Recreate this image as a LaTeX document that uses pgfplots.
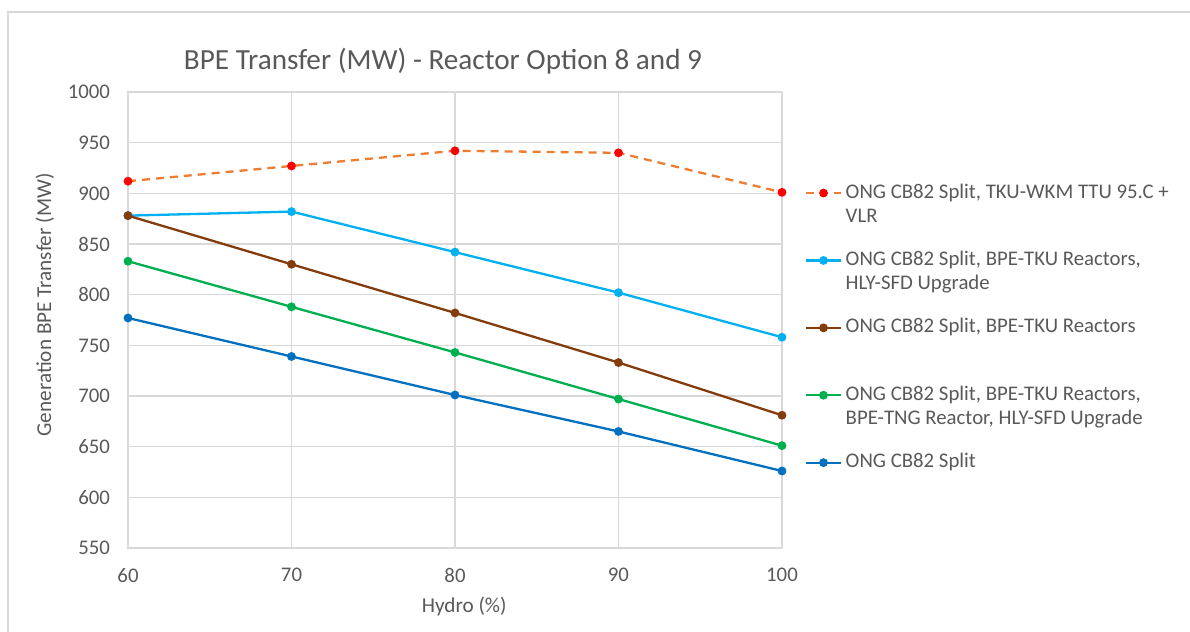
\documentclass[border=0pt]{standalone}
\usepackage{pgfplots}
\pgfplotsset{compat=1.18}
\usepackage{fontspec}
\setmainfont{Carlito}

\definecolor{gridgray}{HTML}{D9D9D9}
\definecolor{labgray}{HTML}{595959}
\definecolor{xlorange}{HTML}{ED7D31}
\definecolor{xlred}{HTML}{FF0000}
\definecolor{xllblue}{HTML}{00B0F0}
\definecolor{xlbrown}{HTML}{843C0C}
\definecolor{xlgreen}{HTML}{00B050}
\definecolor{xlblue}{HTML}{0070C0}

\newcommand{\legtext}[1]{\smash{\parbox[t]{210pt}{\raggedright #1}}}

\begin{document}
\begin{tikzpicture}
\useasboundingbox (-64pt,-42pt) rectangle (531pt,274pt);
\draw[gridgray, line width=0.7pt] (-60pt,-42pt) -- (-60pt,268pt) -- (531pt,268pt);

\begin{axis}[
    at={(0,0)}, anchor=south west,
    scale only axis,
    width=327pt, height=228pt,
    xmin=60, xmax=100,
    ymin=550, ymax=1000,
    xtick={60,70,80,90,100},
    ytick={550,600,...,1000},
    grid=major,
    grid style={gridgray, line width=0.6pt},
    axis line style={gridgray, line width=0.6pt},
    major tick length=0pt,
    /pgf/number format/assume math mode=true,
    /pgf/number format/1000 sep={},
    ticklabel style={font=\fontsize{10.4}{12}\selectfont, text=labgray},
    xticklabel style={yshift=-6.5pt},
    yticklabel style={xshift=-5.5pt},
    title={BPE Transfer (MW) - Reactor Option 8 and 9},
    title style={at={(axis description cs:0.4817,1.041)}, anchor=center,
        font=\fontsize{14.6}{17}\selectfont, text=labgray},
    xlabel={Hydro (\%)},
    ylabel={Generation BPE Transfer (MW)},
    label style={font=\fontsize{10.6}{12.5}\selectfont, text=labgray},
    xlabel style={at={(axis description cs:0.514,-0.129)}, anchor=center},
    ylabel style={at={(axis description cs:-0.127,0.533)}, anchor=center},
    legend cell align=left,
    legend style={
        at={(1.035,0.81)}, anchor=north west,
        draw=none, fill=none, inner sep=0pt,
        row sep=19.7pt,
        font=\fontsize{10.4}{12}\selectfont, text=labgray,
        nodes={text height=7.5pt, text depth=2.5pt, inner xsep=2pt},
    },
    every axis plot/.append style={line width=1.15pt, mark=*, mark size=1.6pt},
]

\addplot[xlorange, dash pattern=on 4pt off 3pt,
    mark options={solid, draw=xlred, fill=xlred}]
    coordinates {(60,912) (70,927) (80,942) (90,940) (100,901)};
\addlegendentry{\legtext{ONG CB82 Split, TKU-WKM TTU 95.C +\\VLR}}

\addplot[xllblue, mark options={fill=xllblue}]
    coordinates {(60,878) (70,882) (80,842) (90,802) (100,758)};
\addlegendentry{\legtext{ONG CB82 Split, BPE-TKU Reactors,\\HLY-SFD Upgrade}}

\addplot[xlbrown, mark options={fill=xlbrown}]
    coordinates {(60,878) (70,830) (80,782) (90,733) (100,681)};
\addlegendentry{\legtext{ONG CB82 Split, BPE-TKU Reactors}}

\addplot[xlgreen, mark options={fill=xlgreen}]
    coordinates {(60,833) (70,788) (80,743) (90,697) (100,651)};
\addlegendentry{\legtext{ONG CB82 Split, BPE-TKU Reactors,\\BPE-TNG Reactor, HLY-SFD Upgrade}}

\addplot[xlblue, mark options={fill=xlblue}]
    coordinates {(60,777) (70,739) (80,701) (90,665) (100,626)};
\addlegendentry{\legtext{ONG CB82 Split}}

\end{axis}
\end{tikzpicture}
\end{document}
